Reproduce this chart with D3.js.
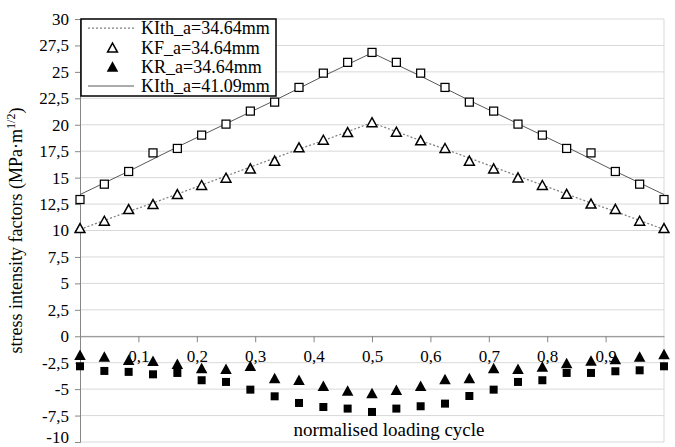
<!DOCTYPE html>
<html><head><meta charset="utf-8">
<script src="https://cdn.jsdelivr.net/npm/d3@7"></script>
<style>body{margin:0;background:#fff}svg{display:block}svg text{font-family:"Liberation Serif","DejaVu Serif",serif !important;fill:#000}</style>
</head><body><svg id="c" width="675" height="447"></svg>
<script>
const cycle = [0,0.0417,0.0833,0.125,0.1667,0.2083,0.25,0.2917,0.3333,0.375,0.4167,0.4583,0.5,0.5417,0.5833,0.625,0.6667,0.7083,0.75,0.7917,0.8333,0.875,0.9167,0.9583,1];
const kIth34 = [10.1,10.95,11.8,12.6,13.45,14.3,15.15,16.0,16.85,17.7,18.5,19.35,20.2,19.35,18.5,17.7,16.85,16.0,15.15,14.3,13.45,12.6,11.8,10.95,10.1];
const kF34 = [10.19,10.88,11.98,12.46,13.4,14.26,14.95,15.83,16.56,17.82,18.54,19.27,20.2,19.3,18.48,17.76,16.56,15.83,14.98,14.26,13.43,12.5,12.0,10.88,10.19];
const kR34 = [-1.8,-1.96,-2.27,-2.37,-2.65,-3.06,-3.12,-2.84,-4.0,-4.16,-4.73,-5.17,-5.42,-5.1,-4.73,-4.1,-4.0,-3.06,-3.12,-2.9,-2.59,-2.34,-2.2,-1.96,-1.73];
const kIth41 = [13.4,14.5,15.6,16.75,17.9,19.0,20.1,21.2,22.3,23.45,24.6,25.7,26.8,25.7,24.6,23.45,22.3,21.2,20.1,19.0,17.9,16.75,15.6,14.5,13.4];
const kF41 = [12.93,14.38,15.58,17.34,17.76,19.02,20.06,21.29,22.14,23.53,24.88,25.9,26.84,25.9,24.88,23.53,22.14,21.29,20.06,19.02,17.76,17.34,15.58,14.38,12.93];
const kR41 = [-2.84,-3.28,-3.37,-3.6,-3.47,-4.16,-4.32,-5.05,-5.68,-6.31,-6.69,-6.84,-7.16,-6.84,-6.62,-6.37,-5.65,-5.05,-4.32,-4.16,-3.47,-3.47,-3.31,-3.22,-2.84];
const yTicks = [-10,-7.5,-5,-2.5,0,2.5,5,7.5,10,12.5,15,17.5,20,22.5,25,27.5,30];
const xTicks = [0.1,0.2,0.3,0.4,0.5,0.6,0.7,0.8,0.9];
const legendLabels = ["KIth_a=34.64mm","KF_a=34.64mm","KR_a=34.64mm","KIth_a=41.09mm"];

const FONT = "Liberation Serif, DejaVu Serif, serif";
const svg = d3.select("#c");
const m = {l:80, r:11, t:19, b:5};
const W = 675, H = 447;
const x = d3.scaleLinear().domain([0,1]).range([m.l, W-m.r]);
const y = d3.scaleLinear().domain([-10,30]).range([H-m.b, m.t]);
const fmt = v => String(v).replace(".", ",");
const fs = 17;

// gridlines
svg.append("g").selectAll("line").data(yTicks).join("line")
  .attr("x1", x(0)).attr("x2", x(1)).attr("y1", d=>y(d)).attr("y2", d=>y(d))
  .attr("stroke", "#d9d9d9").attr("stroke-width", 1);
svg.append("line").attr("x1", x(1)).attr("x2", x(1)).attr("y1", y(30)).attr("y2", y(-10))
  .attr("stroke", "#d9d9d9");

// y axis
const yAxis = d3.axisLeft(y).tickValues(yTicks).tickFormat(fmt).tickSize(5).tickPadding(6);
const gy = svg.append("g").attr("transform", `translate(${x(0)},0)`).call(yAxis)
  .attr("font-family", FONT).attr("font-size", fs);
gy.select(".domain").attr("stroke", "#868686");
gy.selectAll(".tick line").attr("stroke", "#868686");
gy.selectAll("text").attr("font-size", fs).attr("font-family", FONT)
  .attr("dy", d => d === -10 ? "0em" : "0.32em");

// x axis at 0
const xAxis = d3.axisBottom(x).tickValues(xTicks).tickFormat(fmt).tickSize(6).tickPadding(8).tickSizeOuter(0);
const gx = svg.append("g").attr("transform", `translate(0,${y(0)})`).call(xAxis)
  .attr("font-family", FONT).attr("font-size", fs);
gx.select(".domain").attr("stroke", "#868686");
gx.selectAll(".tick line").attr("stroke", "#868686");
gx.selectAll("text").attr("font-size", fs).attr("font-family", FONT);

// axis titles
svg.append("text").attr("x", 389).attr("y", 436).attr("text-anchor","middle")
  .attr("font-family", FONT).attr("font-size", 19).text("normalised loading cycle");
const yt = svg.append("text").attr("transform", `translate(22,${(y(30)+y(-10))/2}) rotate(-90)`)
  .attr("text-anchor","middle").attr("font-family", FONT).attr("font-size", 18);
yt.append("tspan").text("stress intensity factors (MPa·m");
yt.append("tspan").attr("baseline-shift","super").attr("font-size", 12).text("1/2");
yt.append("tspan").text(")");

const line = arr => d3.line().x((d,i)=>x(cycle[i])).y(d=>y(d))(arr);
const triUp = (s) => `M0,${-s*0.55}L${s*0.55},${s*0.45}L${-s*0.55},${s*0.45}Z`;

// lines
svg.append("path").attr("d", line(kIth34)).attr("fill","none").attr("stroke","#7f7f7f")
  .attr("stroke-width",1.25).attr("stroke-dasharray","2,2");
svg.append("path").attr("d", line(kIth41)).attr("fill","none").attr("stroke","#595959").attr("stroke-width",1);

// markers
const sq = 8;
svg.append("g").selectAll("rect").data(kF41).join("rect")
  .attr("x",(d,i)=>x(cycle[i])-sq/2).attr("y",d=>y(d)-sq/2).attr("width",sq).attr("height",sq)
  .attr("fill","#fff").attr("stroke","#000").attr("stroke-width",1.25);
svg.append("g").selectAll("path").data(kF34).join("path")
  .attr("transform",(d,i)=>`translate(${x(cycle[i])},${y(d)})`).attr("d", triUp(9))
  .attr("fill","#fff").attr("stroke","#000").attr("stroke-width",1.5);
svg.append("g").selectAll("rect").data(kR41).join("rect")
  .attr("x",(d,i)=>x(cycle[i])-sq/2).attr("y",d=>y(d)-sq/2).attr("width",sq).attr("height",sq)
  .attr("fill","#000");
svg.append("g").selectAll("path").data(kR34).join("path")
  .attr("transform",(d,i)=>`translate(${x(cycle[i])},${y(d)})`).attr("d", triUp(10.5))
  .attr("fill","#000");

// legend
const lg = svg.append("g");
lg.append("rect").attr("x",81).attr("y",19).attr("width",195).attr("height",77)
  .attr("fill","#fff").attr("stroke","#000").attr("stroke-width",1.5);
const rows = [28,48,67,86];
legendLabels.forEach((t,i)=>{
  lg.append("text").attr("x",141).attr("y",rows[i]+5.5).attr("font-family", FONT).attr("font-size",18).text(t);
});
lg.append("line").attr("x1",88).attr("x2",134).attr("y1",rows[0]).attr("y2",rows[0])
  .attr("stroke","#7f7f7f").attr("stroke-width",1.25).attr("stroke-dasharray","2,2");
lg.append("path").attr("transform",`translate(112.5,${rows[1]})`).attr("d",triUp(9))
  .attr("fill","#fff").attr("stroke","#000").attr("stroke-width",1.5);
lg.append("path").attr("transform",`translate(112.5,${rows[2]})`).attr("d",triUp(10.5)).attr("fill","#000");
lg.append("line").attr("x1",88).attr("x2",134).attr("y1",rows[3]).attr("y2",rows[3])
  .attr("stroke","#595959").attr("stroke-width",1);
</script></body></html>
